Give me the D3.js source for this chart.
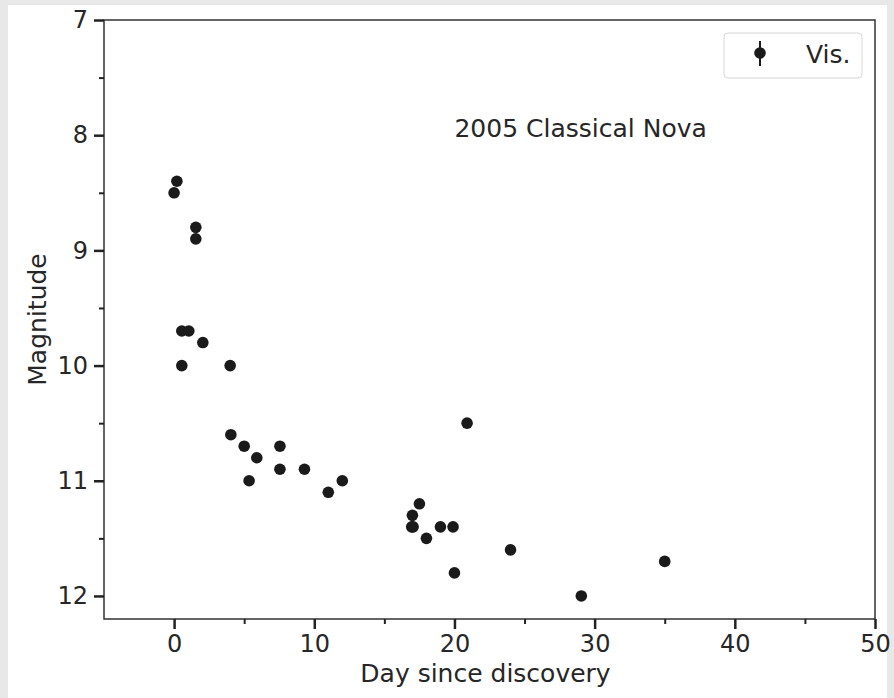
<!DOCTYPE html>
<html>
<head>
<meta charset="utf-8">
<script src="https://cdn.jsdelivr.net/npm/d3@7"></script>
<style>
	body { margin: 0; background: #e8e8e8; }
	svg { display: block; }
	text { font-family: "DejaVu Sans", sans-serif; fill: #262626; }
</style>
</head>
<body>
<svg id="chart" width="894" height="698"></svg>
<script>
// visual magnitude observations of the nova
let days = [0, 0.2, 1.55, 1.55, 0.55, 1.05, 2.05, 0.55, 4.0, 4.05, 5.0, 5.9, 5.35, 7.55, 7.55,
	9.3, 11.0, 12.0, 20.9, 17.5, 17.0, 16.95, 17.05, 18.0, 19.0, 19.9, 20.0, 24.0, 29.05, 35.0];
let mags = [8.5, 8.4, 8.8, 8.9, 9.7, 9.7, 9.8, 10.0, 10.0, 10.6, 10.7, 10.8, 11.0, 10.7, 10.9,
	10.9, 11.1, 11.0, 10.5, 11.2, 11.3, 11.4, 11.4, 11.5, 11.4, 11.4, 11.8, 11.6, 12.0, 11.7];

let xMajor = [0, 10, 20, 30, 40, 50];
let xMinor = [5, 15, 25, 35, 45];
let yMajor = [7, 8, 9, 10, 11, 12];
let yMinor = [7.5, 8.5, 9.5, 10.5, 11.5];

let plotLeft = 104, plotRight = 875, plotTop = 20, plotBottom = 619;

var svg = d3.select("#chart");

svg.append("rect")
	.attr("x", 8).attr("y", 5)
	.attr("width", 879).attr("height", 693)
	.attr("fill", "white");

var x = d3.scaleLinear().domain([-5, 50]).range([plotLeft, plotRight]);
var y = d3.scaleLinear().domain([7, 12.2]).range([plotTop, plotBottom]);

// frame
svg.append("rect")
	.attr("x", plotLeft).attr("y", plotTop)
	.attr("width", plotRight - plotLeft).attr("height", plotBottom - plotTop)
	.attr("fill", "none")
	.attr("stroke", "#333")
	.attr("stroke-width", 1.5);

function styleAxis(g) {
	g.select(".domain").remove();
	g.selectAll(".tick line").attr("stroke", "#222");
}

// x axis
svg.append("g")
	.attr("transform", `translate(0,${plotBottom})`)
	.call(d3.axisBottom(x).tickValues(xMinor).tickSize(5).tickFormat(""))
	.call(styleAxis)
	.selectAll(".tick line").attr("stroke-width", 2);

var gx = svg.append("g")
	.attr("transform", `translate(0,${plotBottom})`)
	.call(d3.axisBottom(x).tickValues(xMajor).tickSize(10).tickPadding(6).tickFormat(d3.format("d")))
	.call(styleAxis);
gx.selectAll(".tick line").attr("stroke-width", 2.5);
gx.selectAll(".tick text")
	.attr("font-size", 24)
	.attr("font-family", "DejaVu Sans")
	.attr("fill", "#262626");

// y axis
svg.append("g")
	.attr("transform", `translate(${plotLeft},0)`)
	.call(d3.axisLeft(y).tickValues(yMinor).tickSize(5).tickFormat(""))
	.call(styleAxis)
	.selectAll(".tick line").attr("stroke-width", 2);

var gy = svg.append("g")
	.attr("transform", `translate(${plotLeft},0)`)
	.call(d3.axisLeft(y).tickValues(yMajor).tickSize(10).tickPadding(6).tickFormat(d3.format("d")))
	.call(styleAxis);
gy.selectAll(".tick line").attr("stroke-width", 2.5);
gy.selectAll(".tick text")
	.attr("font-size", 24)
	.attr("font-family", "DejaVu Sans")
	.attr("fill", "#262626");

// axis titles
svg.append("text")
	.attr("x", (plotLeft + plotRight) / 2 - 4)
	.attr("y", 682)
	.attr("text-anchor", "middle")
	.attr("font-size", 25)
	.text("Day since discovery");

svg.append("text")
	.attr("transform", `translate(46,${(plotTop + plotBottom) / 2}) rotate(-90)`)
	.attr("text-anchor", "middle")
	.attr("font-size", 25)
	.text("Magnitude");

// annotation
svg.append("text")
	.attr("x", x(20))
	.attr("y", y(8) + 2)
	.attr("font-size", 25)
	.text("2005 Classical Nova");

// points
svg.selectAll(".pt")
	.data(days.map((d, i) => ({ day: d, mag: mags[i] })))
	.enter()
	.append("circle")
	.attr("class", "pt")
	.attr("cx", d => x(d.day))
	.attr("cy", d => y(d.mag))
	.attr("r", 5.8)
	.attr("fill", "#1a1a1a");

// legend
var legend = svg.append("g");
legend.append("rect")
	.attr("x", 724).attr("y", 33)
	.attr("width", 138).attr("height", 45)
	.attr("rx", 4)
	.attr("fill", "white")
	.attr("stroke", "#d6d6d6")
	.attr("stroke-width", 1);
legend.append("line")
	.attr("x1", 760).attr("x2", 760)
	.attr("y1", 41).attr("y2", 66)
	.attr("stroke", "#1a1a1a")
	.attr("stroke-width", 2);
legend.append("circle")
	.attr("cx", 760).attr("cy", 53)
	.attr("r", 5.8)
	.attr("fill", "#1a1a1a");
legend.append("text")
	.attr("x", 806).attr("y", 63)
	.attr("font-size", 25)
	.text("Vis.");
</script>
</body>
</html>
